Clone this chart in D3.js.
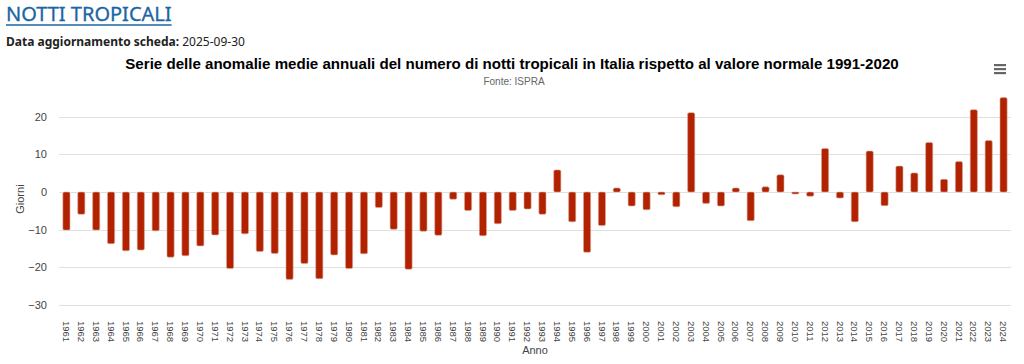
<!DOCTYPE html>
<html>
<head>
<meta charset="utf-8">
<script src="https://cdn.jsdelivr.net/npm/d3@7"></script>
<style>
  html, body { margin: 0; padding: 0; background: #fff; }
  svg { display: block; }
</style>
</head>
<body>
<svg id="chart" width="1024" height="364"></svg>
<script>
const years = d3.range(1961, 2025).map(String);
const anomalies = [
  -10.1, -5.9, -10.1, -13.7, -15.6, -15.4, -10.3, -17.3, -16.9, -14.3,
  -11.4, -20.3, -11.1, -15.8, -16.3, -23.2, -19.0, -23.0, -16.7, -20.3,
  -16.4, -4.1, -9.9, -20.5, -10.4, -11.5, -1.9, -4.9, -11.6, -8.4,
  -4.9, -4.5, -5.9, 5.9, -7.9, -16.0, -8.9, 1.1, -3.7, -4.7,
  -0.7, -3.9, 21.1, -3.0, -3.7, 1.1, -7.6, 1.4, 4.6, -0.5,
  -1.1, 11.6, -1.6, -7.9, 10.9, -3.6, 6.9, 5.1, 13.2, 3.4,
  8.1, 21.9, 13.7, 25.1
];
const yTicks = [-30, -20, -10, 0, 10, 20];
const pageTitle = "NOTTI TROPICALI";
const updateLabel = "Data aggiornamento scheda:";
const updateDate = "2025-09-30";
const chartTitle = "Serie delle anomalie medie annuali del numero di notti tropicali in Italia rispetto al valore normale 1991-2020";
const chartSubtitle = "Fonte: ISPRA";
const yTitle = "Giorni";
const xTitle = "Anno";

const data = years.map((y, i) => ({ year: y, value: anomalies[i] }));
const svg = d3.select("#chart");

// Page header
const hdr = svg.append("text").attr("x", 6).attr("y", 21)
  .attr("font-family", "'Noto Sans', 'Open Sans', sans-serif").attr("font-size", 20)
  .attr("fill", "#1a65a3").attr("stroke", "#1a65a3").attr("stroke-width", 0.3).text(pageTitle);
const bb = hdr.node().getBBox();
svg.append("line").attr("x1", bb.x).attr("x2", bb.x + bb.width)
  .attr("y1", 25).attr("y2", 25).attr("stroke", "#1a65a3").attr("stroke-width", 1.5);

const upd = svg.append("text").attr("x", 6).attr("y", 46)
  .attr("font-family", "'Noto Sans', 'Open Sans', sans-serif").attr("font-size", 12).attr("fill", "#222");
upd.append("tspan").attr("font-weight", "bold").text(updateLabel);
upd.append("tspan").text(" " + updateDate);

// Chart titles
svg.append("text").attr("x", 512).attr("y", 69).attr("text-anchor", "middle")
  .attr("font-family", "'Liberation Sans', Arial, sans-serif").attr("font-size", 15.1)
  .attr("font-weight", "bold").attr("fill", "#000").text(chartTitle);
svg.append("text").attr("x", 514).attr("y", 85).attr("text-anchor", "middle")
  .attr("font-family", "'Liberation Sans', Arial, sans-serif").attr("font-size", 10)
  .attr("fill", "#666").text(chartSubtitle);

// Menu icon
[0, 4, 8].forEach(d => {
  svg.append("rect").attr("x", 994).attr("y", 64 + d).attr("width", 12).attr("height", 2.2)
    .attr("fill", "#666");
});

// Scales
const x = d3.scaleBand().domain(years).range([59, 1011]).paddingInner(0.52).paddingOuter(0.26);
const y = d3.scaleLinear().domain([-30, 25]).range([305, 98]);

// Gridlines
const grid = svg.append("g").attr("class", "grid");
yTicks.forEach(t => {
  grid.append("line").attr("x1", 59).attr("x2", 1011)
    .attr("y1", Math.round(y(t)) + 0.5).attr("y2", Math.round(y(t)) + 0.5)
    .attr("stroke", "#e0e0e0").attr("stroke-width", 1);
});

// Y axis
const yAxis = d3.axisLeft(y).tickValues(yTicks).tickSize(0).tickPadding(0);
const yg = svg.append("g").attr("transform", "translate(47,0)").call(yAxis);
yg.select(".domain").remove();
yg.selectAll("text").attr("font-family", "'Liberation Sans', Arial, sans-serif")
  .attr("font-size", 11).attr("fill", "#444");

svg.append("text").attr("transform", `translate(24,${y(0) + 7}) rotate(-90)`)
  .attr("text-anchor", "middle").attr("font-family", "'Liberation Sans', Arial, sans-serif")
  .attr("font-size", 11).attr("fill", "#444").text(yTitle);

// Bars
svg.append("g").selectAll("path").data(data).join("path")
  .attr("d", d => {
    const x0 = x(d.year), w = x.bandwidth();
    const y0 = y(Math.max(0, d.value)), y1 = y(Math.min(0, d.value));
    const h = Math.max(1, y1 - y0);
    const r = Math.min(1.5, h / 2);
    return `M${x0 + r},${y0}H${x0 + w - r}Q${x0 + w},${y0} ${x0 + w},${y0 + r}V${y0 + h - r}Q${x0 + w},${y0 + h} ${x0 + w - r},${y0 + h}H${x0 + r}Q${x0},${y0 + h} ${x0},${y0 + h - r}V${y0 + r}Q${x0},${y0} ${x0 + r},${y0}Z`;
  })
  .attr("fill", "#b22200").attr("stroke", "#d9a89a").attr("stroke-width", 0.6);

// X axis
const xAxis = d3.axisBottom(x).tickSize(0).tickPadding(0);
const xg = svg.append("g").attr("transform", "translate(0,314)").call(xAxis);
xg.select(".domain").remove();
xg.selectAll("text")
  .attr("font-family", "'Liberation Sans', Arial, sans-serif").attr("font-size", 9.5)
  .attr("fill", "#444")
  .attr("transform", "rotate(90)")
  .attr("text-anchor", "start").attr("dy", "0.35em").attr("y", 0).attr("x", 7);

svg.append("text").attr("x", 535).attr("y", 354).attr("text-anchor", "middle")
  .attr("font-family", "'Liberation Sans', Arial, sans-serif")
  .attr("font-size", 11).attr("fill", "#444").text(xTitle);
</script>
</body>
</html>
